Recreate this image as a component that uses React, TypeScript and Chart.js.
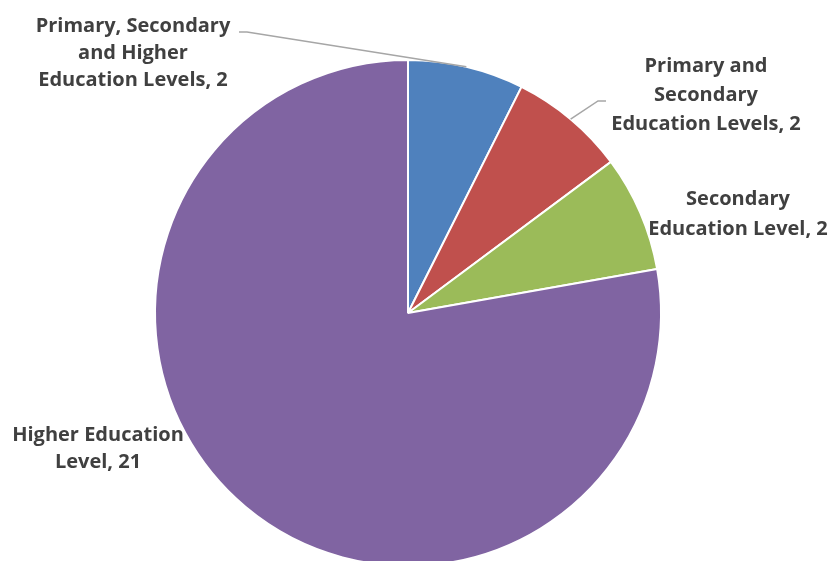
import React, { useEffect, useRef } from "react";
import { Chart, registerables } from "chart.js";

Chart.register(...registerables);

const categories = [
  "Primary, Secondary and Higher Education Levels",
  "Primary and Secondary Education Levels",
  "Secondary Education Level",
  "Higher Education Level",
];
const counts = [2, 2, 2, 21];
const sliceColors = ["#4F81BD", "#C0504D", "#9BBB59", "#8064A2"];

// label layout: text block centre x, first baseline y, line height, words per line, leader line
const labelLayout = [
  { x: 133, y: 32, lh: 27, words: [2, 2, 3], leader: { x: 239, y: 32, elbow: 8 } },
  { x: 706, y: 72, lh: 29, words: [2, 1, 3], leader: { x: 606, y: 101, elbow: -8 } },
  { x: 738, y: 205, lh: 30, words: [1, 3], leader: null },
  { x: 98, y: 441, lh: 27, words: [2, 2], leader: null },
];

const FONT = "bold 20px 'Open Sans'";
const TEXT_COLOR = "#404040";
const LEADER_COLOR = "#A6A6A6";

const labelPlugin = {
  id: "pieLabels",
  afterDatasetsDraw(chart: any) {
    const ctx = chart.ctx;
    const meta = chart.getDatasetMeta(0);
    const values = chart.data.datasets[0].data as number[];
    const labels = chart.data.labels as string[];
    ctx.save();
    meta.data.forEach((arc: any, i: number) => {
      const lay = labelLayout[i];
      if (!lay) return;
      const { x: cx, y: cy, startAngle, endAngle, outerRadius } = arc.getProps(
        ["x", "y", "startAngle", "endAngle", "outerRadius"],
        true
      );
      if (lay.leader) {
        const mid = (startAngle + endAngle) / 2;
        const px = cx + Math.cos(mid) * outerRadius;
        const py = cy + Math.sin(mid) * outerRadius;
        ctx.strokeStyle = LEADER_COLOR;
        ctx.lineWidth = 1.5;
        ctx.beginPath();
        ctx.moveTo(lay.leader.x, lay.leader.y);
        ctx.lineTo(lay.leader.x + lay.leader.elbow, lay.leader.y);
        ctx.lineTo(px, py);
        ctx.stroke();
      }
      const words = (labels[i] + ", " + values[i]).split(" ");
      const lines: string[] = [];
      let k = 0;
      lay.words.forEach((n) => {
        lines.push(words.slice(k, k + n).join(" "));
        k += n;
      });
      ctx.font = FONT;
      ctx.fillStyle = TEXT_COLOR;
      ctx.textAlign = "center";
      ctx.textBaseline = "alphabetic";
      lines.forEach((line, j) => {
        ctx.fillText(line, lay.x, lay.y + j * lay.lh);
      });
    });
    ctx.restore();
  },
};

export default function App() {
  const ref = useRef<HTMLCanvasElement | null>(null);
  useEffect(() => {
    if (!ref.current) return;
    const chart = new Chart(ref.current, {
      type: "pie",
      data: {
        labels: categories,
        datasets: [
          {
            data: counts,
            backgroundColor: sliceColors,
            borderColor: "#FFFFFF",
            borderWidth: 2,
          },
        ],
      },
      options: {
        responsive: false,
        animation: false,
        devicePixelRatio: 1,
        layout: { padding: { top: 59, bottom: 13, left: 154, right: 175 } },
        plugins: {
          legend: { display: false },
          tooltip: { enabled: false },
        },
      },
      plugins: [labelPlugin],
    });
    return () => chart.destroy();
  }, []);
  return (
    <div
      style={{
        position: "fixed",
        left: 0,
        top: 0,
        width: 837,
        height: 561,
        overflow: "hidden",
        background: "#FFFFFF",
      }}
    >
      <canvas ref={ref} width={837} height={580} style={{ width: 837, height: 580, display: "block" }} />
    </div>
  );
}
